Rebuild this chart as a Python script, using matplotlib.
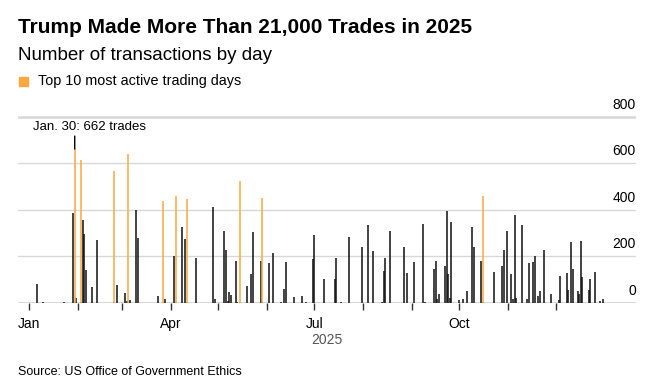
import numpy as np
import pandas as pd
import matplotlib
matplotlib.use('Agg')
import matplotlib.pyplot as plt

# daily transaction counts
dates = ['2025-01-06', '2025-01-10', '2025-01-23', '2025-01-29', '2025-01-30', '2025-01-31',
         '2025-02-03', '2025-02-04', '2025-02-05', '2025-02-06', '2025-02-10', '2025-02-13',
         '2025-02-24', '2025-02-26', '2025-03-03', '2025-03-04', '2025-03-05', '2025-03-06',
         '2025-03-10', '2025-03-11', '2025-03-24', '2025-03-27', '2025-03-28', '2025-04-03',
         '2025-04-04', '2025-04-08', '2025-04-10', '2025-04-11', '2025-04-17', '2025-04-28',
         '2025-04-29', '2025-05-05', '2025-05-06', '2025-05-07', '2025-05-08', '2025-05-09',
         '2025-05-12', '2025-05-13', '2025-05-15', '2025-05-19', '2025-05-22', '2025-05-23',
         '2025-05-28', '2025-05-29', '2025-06-02', '2025-06-05', '2025-06-10', '2025-06-12',
         '2025-06-13', '2025-06-18', '2025-06-23', '2025-06-26', '2025-06-30', '2025-07-01',
         '2025-07-07', '2025-07-14', '2025-07-15', '2025-07-18', '2025-07-23', '2025-07-31',
         '2025-08-04', '2025-08-07', '2025-08-13', '2025-08-14', '2025-08-15', '2025-08-18',
         '2025-08-27', '2025-08-29', '2025-09-02', '2025-09-08', '2025-09-09', '2025-09-15',
         '2025-09-16', '2025-09-17', '2025-09-18', '2025-09-22', '2025-09-23', '2025-09-24',
         '2025-09-25', '2025-09-26', '2025-10-01', '2025-10-03', '2025-10-06', '2025-10-09',
         '2025-10-10', '2025-10-15', '2025-10-16', '2025-10-23', '2025-10-28', '2025-10-29',
         '2025-10-31', '2025-11-03', '2025-11-04', '2025-11-05', '2025-11-06', '2025-11-10',
         '2025-11-13', '2025-11-14', '2025-11-17', '2025-11-18', '2025-11-20', '2025-11-21',
         '2025-11-24', '2025-11-28', '2025-12-03', '2025-12-04', '2025-12-08', '2025-12-09',
         '2025-12-11', '2025-12-12', '2025-12-15', '2025-12-16', '2025-12-17', '2025-12-18',
         '2025-12-22', '2025-12-23', '2025-12-26', '2025-12-29', '2025-12-31']
trades = [80, 3, 4, 386, 662, 20,
          614, 356, 295, 141, 68, 270,
          566, 75, 42, 8, 639, 10,
          399, 280, 27, 437, 16, 202,
          460, 326, 273, 445, 192, 414,
          16, 308, 227, 7, 46, 32,
          178, 5, 525, 72, 123, 304,
          179, 453, 171, 212, 2, 58,
          175, 25, 29, 3, 188, 290,
          102, 102, 192, 3, 282, 238,
          334, 221, 3, 136, 191, 308,
          241, 128, 175, 338, 3, 146,
          179, 17, 37, 158, 393, 123,
          20, 347, 12, 16, 50, 326,
          240, 178, 459, 132, 158, 227,
          308, 125, 16, 376, 20, 333,
          16, 169, 175, 201, 30, 49,
          225, 36, 10, 115, 126, 55,
          260, 146, 50, 37, 264, 110,
          56, 102, 131, 7, 17]

df = pd.DataFrame({'date': pd.to_datetime(dates), 'trades': trades})
top10 = df.nlargest(10, 'trades').index
df['top'] = df.index.isin(top10)

plt.rcParams['font.family'] = ['Liberation Sans', 'DejaVu Sans']

orange = '#f9a93f'
fig = plt.figure(figsize=(6.56, 3.92), dpi=100)
ax = fig.add_axes([0.0274, 0.2278, 0.942, 0.4796])

rest = df[~df['top']]
hi = df[df['top']]
ax.vlines(rest['date'], 0, rest['trades'], color='#111111', alpha=0.85, lw=1.3, zorder=3)
ax.vlines(hi['date'], 0, hi['trades'], color=orange, alpha=0.85, lw=1.3, zorder=3)

ax.set_xlim(pd.Timestamp('2024-12-25'), pd.Timestamp('2026-01-21'))
ax.set_ylim(0, 810)

for v in [200, 400, 600, 800]:
    ax.axhline(v, color='#d8d8d8', lw=1.8 if v == 800 else 1, zorder=1)
    ax.annotate(str(v), xy=(1, v), xycoords=('axes fraction', 'data'),
                xytext=(0, 12), textcoords='offset pixels', ha='right', va='center', fontsize=10)
ax.annotate('0', xy=(1, 0), xycoords=('axes fraction', 'data'),
            xytext=(0, 12), textcoords='offset pixels', ha='right', va='center', fontsize=10)
ax.axhline(0, color='#333333', lw=1, zorder=4)

for s in ax.spines.values():
    s.set_visible(False)
ax.set_yticks([])

month_starts = pd.date_range('2025-01-01', '2025-12-01', freq='MS')
ax.set_xticks(month_starts)
ax.set_xticklabels([d.strftime('%b') if d.month in (1, 4, 7, 10) else '' for d in month_starts],
                   fontsize=10)
ax.tick_params(axis='x', length=5, width=1, color='#333333', pad=5)
ax.set_xlabel('2025', fontsize=10, color='#555555', labelpad=2)

# annotation for busiest day
peak = df.loc[df['trades'].idxmax()]
ax.annotate('', xy=(peak['date'], peak['trades']), xytext=(0, 13), textcoords='offset pixels',
            arrowprops=dict(arrowstyle='-', color='black', lw=1, shrinkA=0, shrinkB=0))
ax.annotate(f"{peak['date'].strftime('%b')}. {peak['date'].day}: {peak['trades']} trades",
            xy=(peak['date'], peak['trades']), xytext=(15, 22), textcoords='offset pixels',
            ha='center', va='center', fontsize=9.5)

fig.text(0.027, 0.929, 'Trump Made More Than 21,000 Trades in 2025', fontsize=15,
         fontweight='bold', va='center')
fig.text(0.027, 0.859, 'Number of transactions by day', fontsize=13.5, va='center')
fig.patches.append(plt.Rectangle((0.029, 0.781), 0.0137, 0.023, transform=fig.transFigure,
                                 color=orange, figure=fig))
fig.text(0.058, 0.793, 'Top 10 most active trading days', fontsize=10.4, va='center')
fig.text(0.027, 0.051, 'Source: US Office of Government Ethics', fontsize=9, va='center')

fig.savefig('out.png', dpi=100)
